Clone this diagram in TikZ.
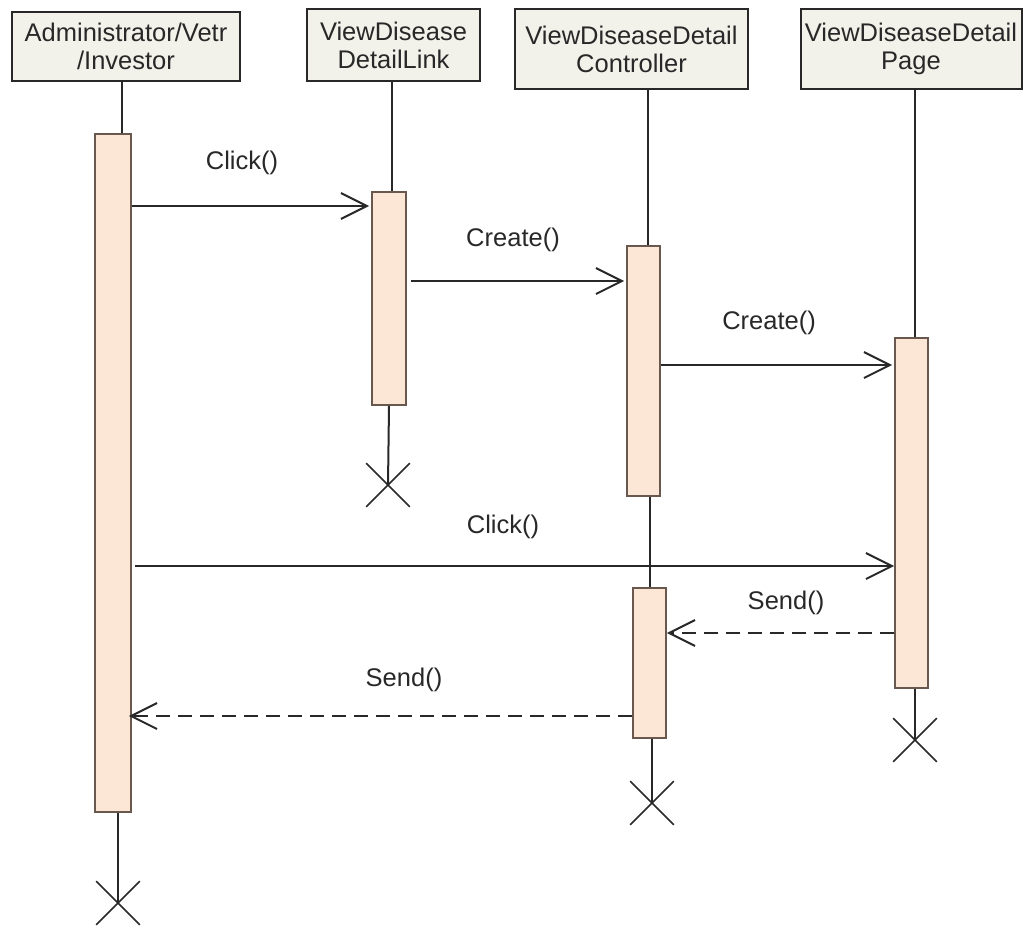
\documentclass[tikz,border=0pt]{standalone}
\usepackage{fontspec}
\setmainfont{Liberation Sans}
\usetikzlibrary{arrows.meta,shapes.misc}
\definecolor{hdrfill}{RGB}{242,242,234}
\definecolor{barfill}{RGB}{252,230,214}
\definecolor{bardraw}{RGB}{105,88,78}
\definecolor{ink}{RGB}{40,40,40}
\tikzset{
  hdr/.style={draw=ink, line width=2pt, fill=hdrfill, align=center, inner sep=0pt,
    font=\fontsize{25.5}{28}\selectfont, text=ink},
  actbar/.style={draw=bardraw, line width=1.6pt, fill=barfill, minimum width=34pt, inner sep=0pt},
  life/.style={draw=ink, line width=2pt},
  msg/.style={draw=ink, line width=2pt, -{Straight Barb[length=26pt,width=26pt,line width=2pt]}},
  ret/.style={msg, dash pattern=on 14pt off 8pt},
  lbl/.style={font=\fontsize{25.5}{28}\selectfont, text=ink},
  endx/.style={cross out, draw=ink, line width=1.6pt, minimum size=42pt, inner sep=0pt},
}
\begin{document}
\begin{tikzpicture}[x=1pt,y=-1pt]
\useasboundingbox[fill=white] (0,0) rectangle (1024,938);
% headers
\node[hdr, minimum width=228pt, minimum height=69pt] (h1) at (126,46.5) {Administrator/Vetr\\/Investor};
\node[hdr, minimum width=173pt, minimum height=72pt] (h2) at (393.5,45) {ViewDisease\\DetailLink};
\node[hdr, minimum width=233pt, minimum height=80pt] (h3) at (631.5,49) {ViewDiseaseDetail\\Controller};
\node[hdr, minimum width=221pt, minimum height=80pt] (h4) at (911,49) {ViewDiseaseDetail\\Page};
% activation bars
\node[actbar, minimum width=36pt, minimum height=678pt] (a1) at (113,473) {};
\node[actbar, minimum height=213pt] (b1) at (389,298.5) {};
\node[actbar, minimum width=33pt, minimum height=250pt] (c1) at (643.5,371) {};
\node[actbar, minimum width=33pt, minimum height=150pt] (c2) at (649.5,663) {};
\node[actbar, minimum width=33pt, minimum height=350pt] (d1) at (911.5,513) {};
% destruction marks
\node[endx] (x1) at (118,903) {};
\node[endx] (x2) at (388,485) {};
\node[endx] (x3) at (652,803) {};
\node[endx] (x4) at (915,740) {};
% lifelines
\draw[life] (h1.south -| 122,0) -- (a1.north -| 122,0);
\draw[life] (a1.south -| 118,0) -- (x1.center);
\draw[life] (h2.south -| 392,0) -- (b1.north -| 392,0);
\draw[life] (b1.south -| 389,0) -- (x2.center);
\draw[life] (h3.south -| 648,0) -- (c1.north -| 648,0);
\draw[life] (c1.south -| 650,0) -- (c2.north -| 650,0);
\draw[life] (c2.south -| 652,0) -- (x3.center);
\draw[life] (h4.south -| 915,0) -- (d1.north -| 915,0);
\draw[life] (d1.south -| 915,0) -- (x4.center);
% messages
\draw[msg] (a1.east |- 0,206) -- ([xshift=-2pt]b1.west |- 0,206);
\node[lbl] (m1) at (242,163) {Click()};
\draw[msg] ([xshift=4pt]b1.east |- 0,281) -- ([xshift=-2pt]c1.west |- 0,281);
\node[lbl] (m2) at (513,240) {Create()};
\draw[msg] (c1.east |- 0,365) -- ([xshift=-2pt]d1.west |- 0,365);
\node[lbl] (m3) at (769,323) {Create()};
\draw[msg] ([xshift=3pt]a1.east |- 0,566) -- (d1.west |- 0,566);
\node[lbl] (m4) at (503,527) {Click()};
\draw[ret] (d1.west |- 0,633) -- (c2.east |- 0,633);
\node[lbl] (m5) at (786,603) {Send()};
\draw[ret] (c2.west |- 0,716) -- ([xshift=-3pt]a1.east |- 0,716);
\node[lbl] (m6) at (404,680) {Send()};
\end{tikzpicture}
\end{document}
